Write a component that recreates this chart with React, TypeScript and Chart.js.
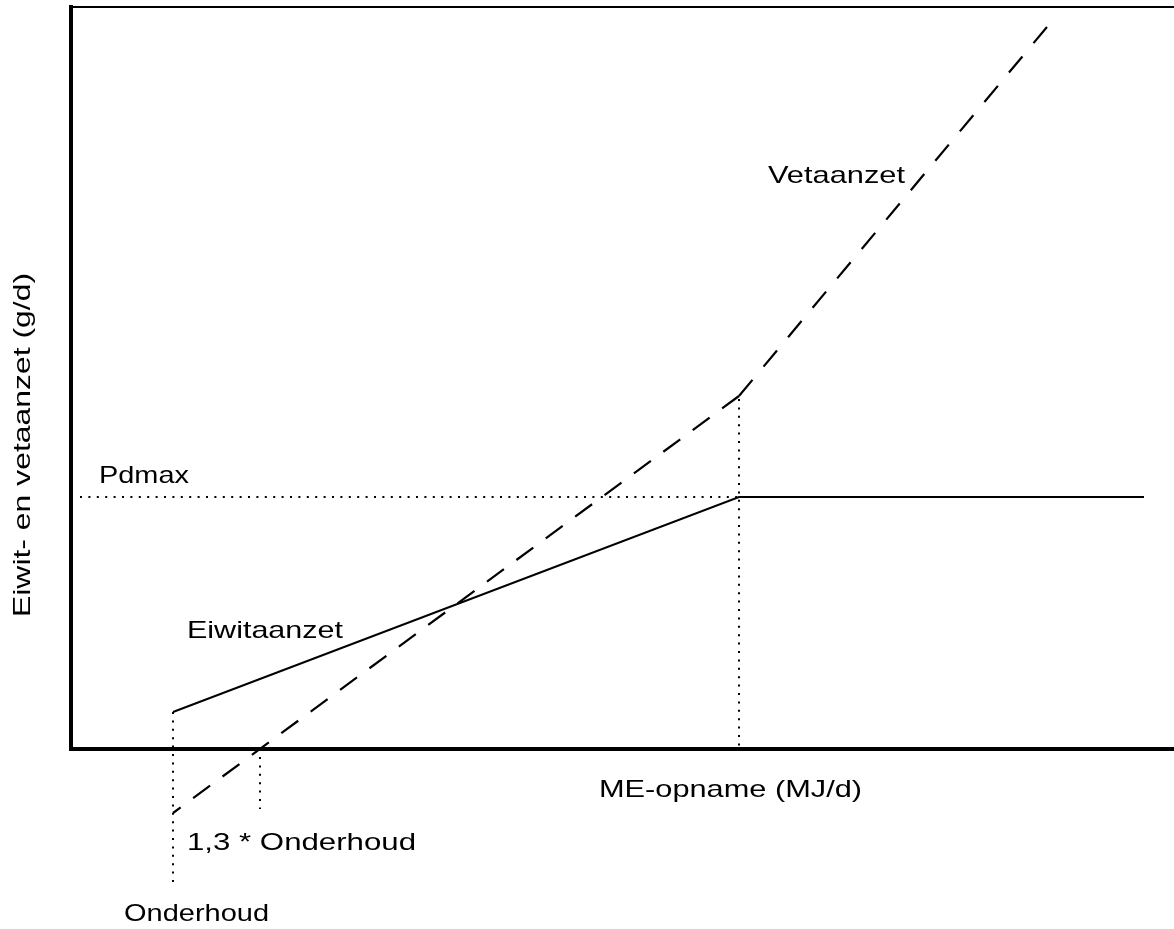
import { useEffect, useRef } from "react";
import { Chart, registerables } from "chart.js";

Chart.register(...registerables);

// Series (ME-opname in arbitrary MJ/d units, aanzet in arbitrary g/d units)
const eiwitX = [10.2, 66.8, 107.3];
const eiwitY = [3.7, 25.2, 25.2];
const vetX = [10.2, 66.8, 97.6];
const vetY = [-6.4, 35.3, 72.2];

// Reference (dotted) lines
const pdmaxX = [0.9, 66.8];
const pdmaxY = [25.2, 25.2];
const kneeX = [66.8, 66.8];
const kneeY = [35.0, 0.3];
const onderhoudX = [10.2, 10.2];
const onderhoudY = [3.7, -13.9];
const onderhoud13X = [18.9, 18.9];
const onderhoud13Y = [-0.8, -6.0];

// Text
const labelTexts = [
  "Vetaanzet",
  "Pdmax",
  "Eiwitaanzet",
  "ME-opname (MJ/d)",
  "1,3 * Onderhoud",
  "Onderhoud",
];
const yTitle = "Eiwit- en vetaanzet (g/d)";

// Layout for the texts (pixel positions: left x, baseline y, target width)
const labelLayout = [
  { x: 768, y: 183, w: 137 },
  { x: 99, y: 483, w: 90 },
  { x: 187, y: 638, w: 156 },
  { x: 599, y: 797, w: 263 },
  { x: 187, y: 850, w: 229 },
  { x: 124, y: 921, w: 145 },
];
const yTitleLayout = { x: 30, y: 617, w: 344 };
const FONT = '24px "Liberation Sans", Arial, sans-serif';

const zip = (xs: number[], ys: number[]) => xs.map((x, i) => ({ x, y: ys[i] }));

const textPlugin = {
  id: "textLabels",
  afterDraw(chart: any) {
    const ctx = chart.ctx as CanvasRenderingContext2D;
    ctx.save();
    ctx.fillStyle = "#000";
    ctx.font = FONT;
    ctx.textBaseline = "alphabetic";
    ctx.textAlign = "left";
    labelTexts.forEach((t, i) => {
      const l = labelLayout[i];
      const w = ctx.measureText(t).width;
      ctx.save();
      ctx.translate(l.x, l.y);
      ctx.scale(l.w / w, 1);
      ctx.fillText(t, 0, 0);
      ctx.restore();
    });
    const w = ctx.measureText(yTitle).width;
    ctx.save();
    ctx.translate(yTitleLayout.x, yTitleLayout.y);
    ctx.rotate(-Math.PI / 2);
    ctx.scale(yTitleLayout.w / w, 1);
    ctx.fillText(yTitle, 0, 0);
    ctx.restore();
    ctx.restore();
  },
};

export default function App() {
  const ref = useRef<HTMLCanvasElement | null>(null);

  useEffect(() => {
    if (!ref.current) return;
    const dotted = {
      borderColor: "#000",
      borderWidth: 2,
      borderDash: [2, 6.4],
      pointRadius: 0,
      showLine: true,
      clip: false as any,
      tension: 0,
    };
    const vetPts = zip(vetX, vetY);
    // the dashed Vetaanzet line is stroked from the knee outwards, in two pieces
    const vetLower = [vetPts[1], vetPts[0]];
    const vetUpper = [vetPts[1], vetPts[2]];
    const chart = new Chart(ref.current, {
      type: "scatter",
      data: {
        datasets: [
          { label: "Pdmax", data: zip(pdmaxX, pdmaxY), ...dotted },
          { label: "knee", data: zip(kneeX, kneeY), ...dotted },
          { label: "Onderhoud", data: zip(onderhoudX, onderhoudY), ...dotted },
          { label: "1,3 * Onderhoud", data: zip(onderhoud13X, onderhoud13Y), ...dotted },
          {
            label: "Eiwitaanzet",
            data: zip(eiwitX, eiwitY),
            borderColor: "#000",
            borderWidth: 2,
            pointRadius: 0,
            showLine: true,
            clip: false as any,
          },
          {
            label: "Vetaanzet",
            data: vetLower,
            borderColor: "#000",
            borderWidth: 2.2,
            borderDash: [21, 15.5],
            pointRadius: 0,
            showLine: true,
            clip: false as any,
          },
          {
            label: "Vetaanzet (boven)",
            data: vetUpper,
            borderColor: "#000",
            borderWidth: 2.2,
            borderDash: [21, 17.3],
            pointRadius: 0,
            showLine: true,
            clip: false as any,
          },
        ],
      },
      options: {
        animation: false,
        responsive: false,
        devicePixelRatio: 1,
        layout: { padding: { left: 71, top: 7, right: 0, bottom: 180 } },
        plugins: {
          legend: { display: false },
          tooltip: { enabled: false },
          title: { display: false },
        },
        scales: {
          x: {
            type: "linear",
            min: 0,
            max: 110.3,
            ticks: { display: false },
            grid: { display: false, drawTicks: false },
            border: { display: true, color: "#000", width: 4 },
          },
          x2: {
            type: "linear",
            position: "top",
            min: 0,
            max: 110.3,
            ticks: { display: false },
            grid: { display: false, drawTicks: false },
            border: { display: true, color: "#000", width: 2 },
          },
          y: {
            type: "linear",
            min: 0,
            max: 74.2,
            ticks: { display: false },
            grid: { display: false, drawTicks: false },
            border: { display: true, color: "#000", width: 4 },
          },
        },
      },
      plugins: [textPlugin],
    });
    return () => chart.destroy();
  }, []);

  return (
    <div style={{ position: "absolute", left: 0, top: 0, width: 1174, height: 929, background: "#fff" }}>
      <canvas ref={ref} width={1174} height={929} style={{ display: "block" }} />
    </div>
  );
}
